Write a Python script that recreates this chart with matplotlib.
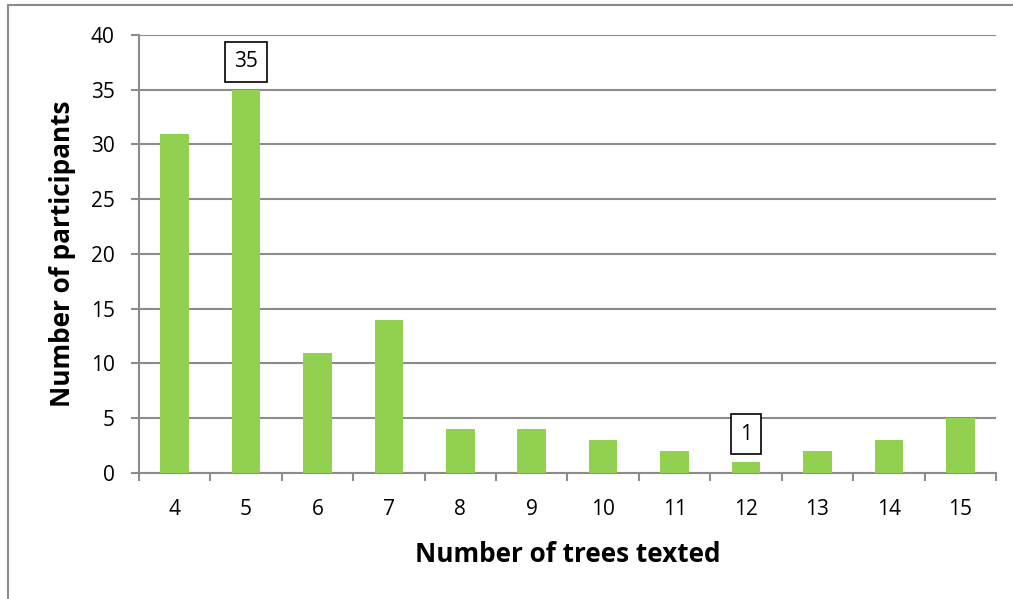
import matplotlib.pyplot as plt
from matplotlib.lines import Line2D

trees = [4, 5, 6, 7, 8, 9, 10, 11, 12, 13, 14, 15]
participants = [31, 35, 11, 14, 4, 4, 3, 2, 1, 2, 3, 5]
labelled = [5, 12]

plt.rcParams['font.family'] = ['Open Sans', 'DejaVu Sans']

fig = plt.figure(figsize=(10.13, 5.99), dpi=100)
ax = fig.add_axes([0.1372, 0.2104, 0.846, 0.7312])

pos = list(range(len(trees)))
ax.bar(pos, participants, width=0.4, color='#92D050', zorder=3)

ax.set_xlim(-0.5, len(trees) - 0.5)
ax.set_ylim(0, 40)
ax.set_yticks(range(0, 41, 5))
ax.set_xticks(pos)
ax.set_xticklabels([str(t) for t in trees])
ax.set_xticks([p - 0.5 for p in pos] + [len(trees) - 0.5], minor=True)

ax.grid(axis='y', color='#8c8c8c', linewidth=1.5, zorder=0)
for side in ['top', 'right']:
    ax.spines[side].set_visible(False)
for side in ['left', 'bottom']:
    ax.spines[side].set_color('#8c8c8c')
    ax.spines[side].set_linewidth(1.5)

ax.tick_params(axis='y', length=5.5, width=1.5, color='#8c8c8c',
               labelsize=15, pad=12)
ax.tick_params(axis='x', which='major', length=0, labelsize=15, pad=18.5)
ax.tick_params(axis='x', which='minor', length=6, width=1.5, color='#8c8c8c')

ax.set_xlabel('Number of trees texted', fontsize=18.8, fontweight='bold',
              labelpad=15.5)
ax.set_ylabel('Number of participants', fontsize=18.8, fontweight='bold',
              labelpad=10.5)

for t in labelled:
    i = trees.index(t)
    ax.annotate(str(participants[i]), (pos[i], participants[i]),
                xytext=(0, 12.5), textcoords='offset points',
                ha='center', va='bottom', fontsize=15,
                bbox=dict(boxstyle='square,pad=0.45', fc='white',
                          ec='black', lw=1.2), zorder=5)

# outer frame (top and left edges only)
fig.add_artist(Line2D([0.008, 0.008], [0, 0.992], color='#8c8c8c', lw=1.5))
fig.add_artist(Line2D([0.008, 1.0], [0.992, 0.992], color='#8c8c8c', lw=1.5))

fig.savefig('out.png', dpi=100)
